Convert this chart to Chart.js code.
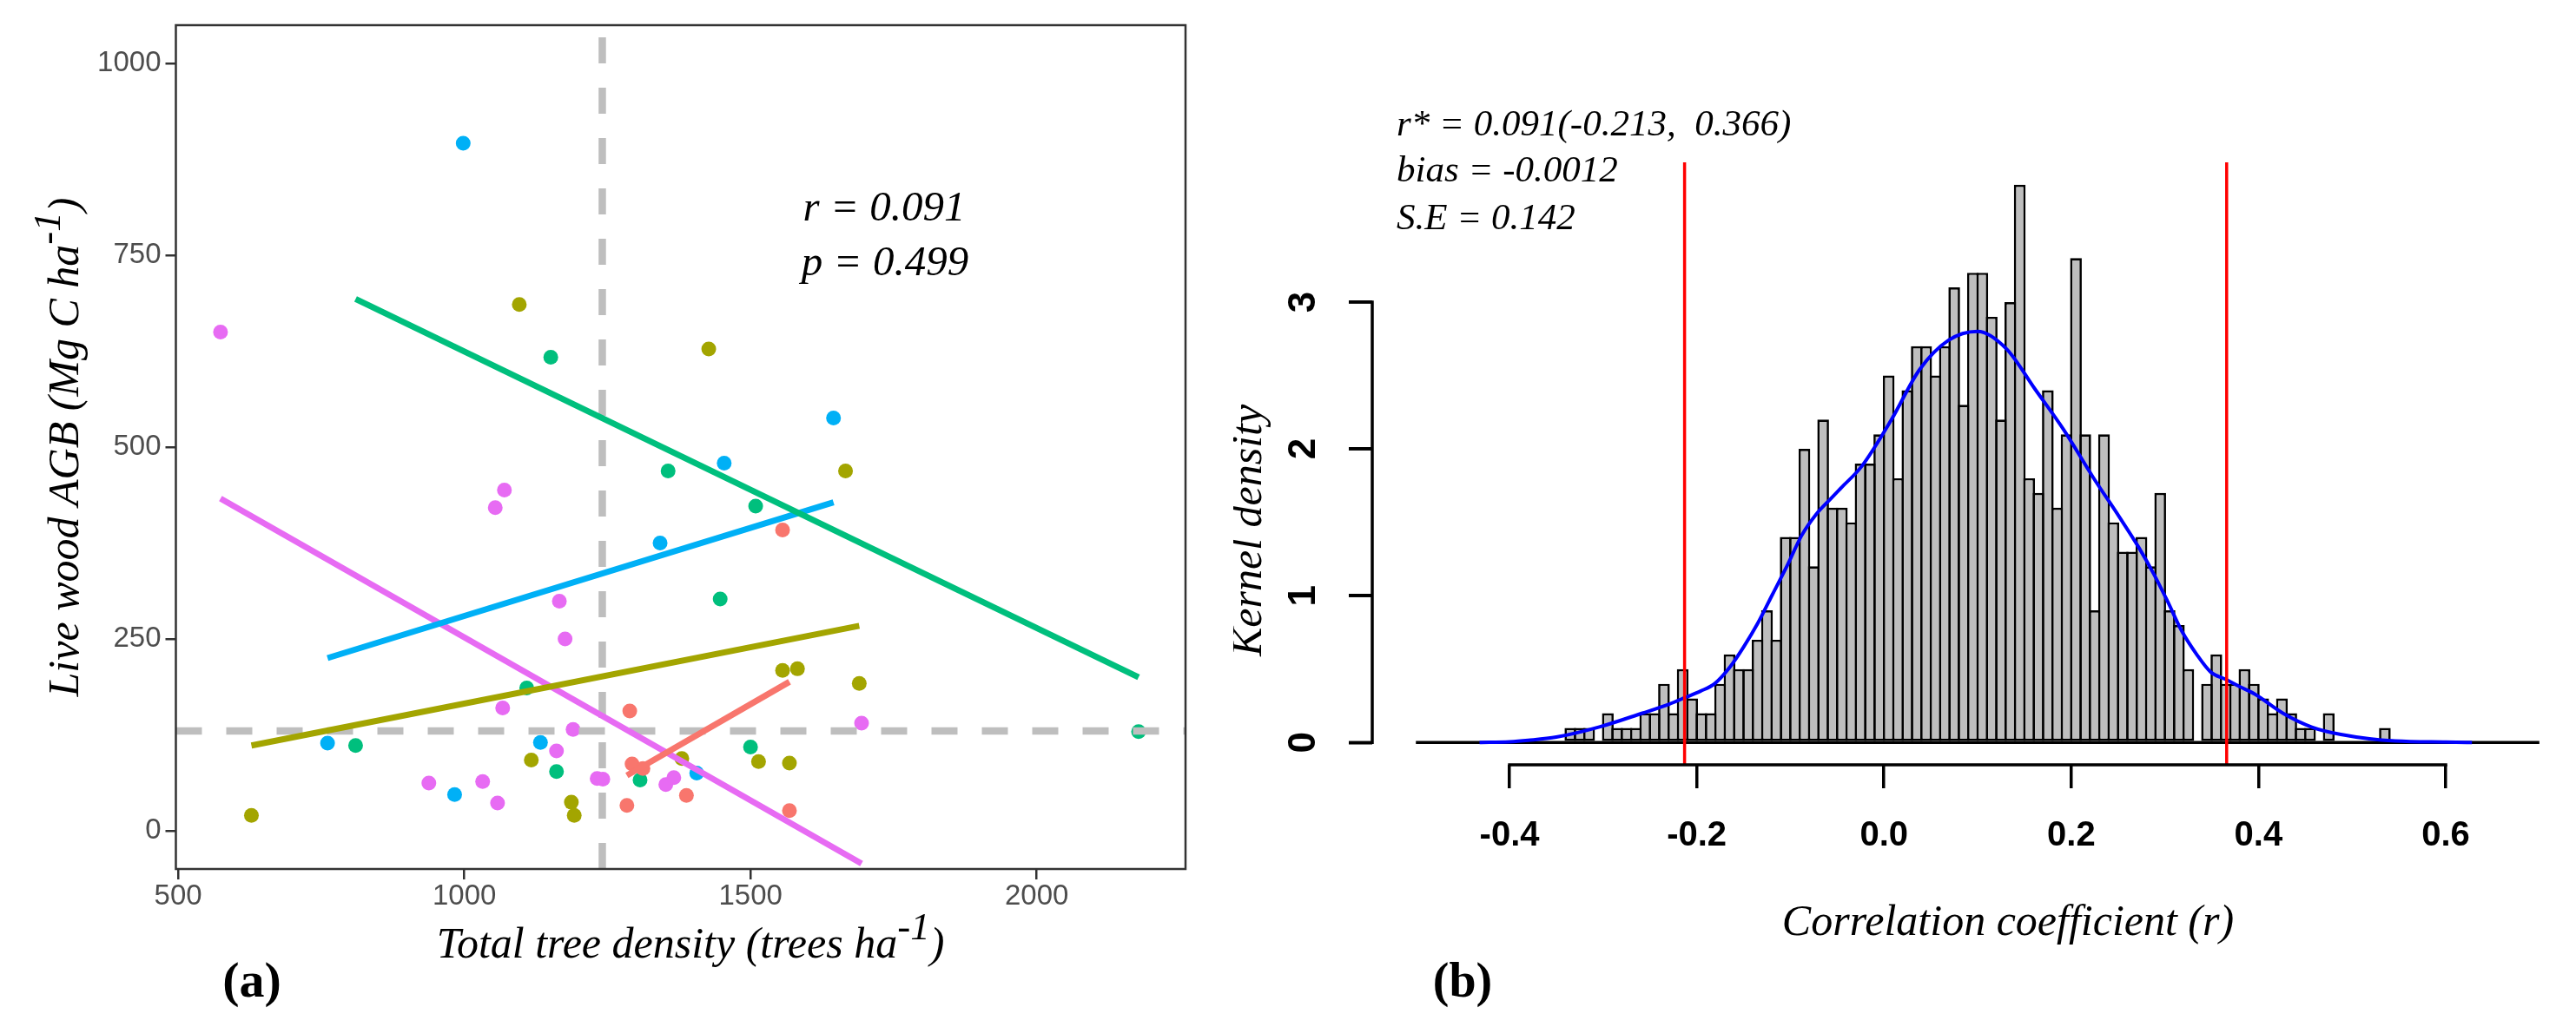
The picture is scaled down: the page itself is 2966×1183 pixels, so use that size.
<!DOCTYPE html>
<html><head><meta charset="utf-8">
<script src="https://cdn.jsdelivr.net/npm/chart.js@4.4.1/dist/chart.umd.min.js"></script>
<style>
html,body{margin:0;padding:0;background:#fff;}
body{width:2966px;height:1183px;position:relative;overflow:hidden;}
canvas{position:absolute;top:0;}
#ca{left:0;} #cb{left:1420px;}
</style></head><body>
<canvas id="ca" width="1420" height="1183"></canvas>
<canvas id="cb" width="1546" height="1183"></canvas>
<script>
// ================= Panel (a) data =================
const groupColors = ['#F8766D', '#A3A500', '#00BF7D', '#00B0F6', '#E76BF3'];
const redX   = [1556, 1289, 1293, 1312, 1284, 1388, 1568];
const redY   = [392, 156, 87, 81, 33, 46, 26];
const oliveX = [628, 1096, 1427, 1666, 1556, 1582, 1690, 1117, 1514, 1568, 1187, 1192, 1380];
const oliveY = [20, 686, 628, 469, 209, 211, 192, 92, 90, 88, 37, 20, 94];
const greenX = [1151, 1356, 1509, 1447, 1109, 810, 1161, 1307, 1500, 2178];
const greenY = [617, 469, 423, 302, 186, 111, 77, 66, 109, 129];
const blueX  = [998, 761, 983, 1133, 1342, 1454, 1645, 1406];
const blueY  = [896, 114, 47, 115, 375, 479, 538, 75];
const pinkX  = [574, 1070, 1054, 1166, 1176, 1067, 1190, 1161, 938, 1032, 1058, 1232, 1242, 1352, 1366, 1694];
const pinkY  = [650, 444, 421, 299, 250, 160, 132, 104, 62, 64, 36, 68, 67, 60, 69, 140];
// fitted line end points per group (red, olive, green, blue, pink)
const fitX = [[1284, 1568], [628, 1690], [810, 2178], [761, 1645], [574, 1694]];
const fitY = [[72, 194], [111, 267], [693, 200], [225, 428], [433, -43]];
const meanDensity = 1241;
const meanAGB = 130;
const xTicksA = [500, 1000, 1500, 2000];
const yTicksA = [0, 250, 500, 750, 1000];
const xRangeA = [496, 2260];
const yRangeA = [-50, 1050];

// ================= Panel (b) data =================
const binStart = -0.34;
const binWidth = 0.01;
const histDensity = [
  0.1, 0.1, 0.1, 0, 0.2, 0.1, 0.1, 0.1, 0.2, 0.2,
  0.4, 0.2, 0.5, 0.3, 0.2, 0.2, 0.4, 0.6, 0.5, 0.5,
  0.7, 0.9, 0.7, 1.4, 1.4, 2.0, 1.2, 2.2, 1.6, 1.6,
  1.5, 1.9, 1.9, 2.1, 2.5, 1.8, 2.4, 2.7, 2.7, 2.5,
  2.7, 3.1, 2.3, 3.2, 3.2, 2.9, 2.2, 3.0, 3.8, 1.8,
  1.7, 2.4, 1.6, 2.1, 3.3, 2.1, 0.9, 2.1, 1.5, 1.3,
  1.3, 1.4, 1.2, 1.7, 0.9, 0.8, 0.5, 0, 0.4, 0.6,
  0.4, 0.4, 0.5, 0.4, 0.3, 0.2, 0.3, 0.2, 0.1, 0.1,
  0, 0.2, 0, 0, 0, 0, 0, 0.1];
const densityR = [-0.432, -0.40, -0.38, -0.35, -0.304, -0.258, -0.23, -0.211, -0.196, -0.181, -0.165, -0.150,
  -0.135, -0.119, -0.103, -0.088, -0.073, -0.057, -0.045, -0.024, 0.008, 0.038, 0.069, 0.100,
  0.131, 0.161, 0.192, 0.223, 0.251, 0.272, 0.288, 0.303, 0.318, 0.334, 0.349, 0.365, 0.380,
  0.396, 0.426, 0.457, 0.488, 0.546, 0.60, 0.628];
const densityY = [0, 0.005, 0.015, 0.037, 0.106, 0.20, 0.26, 0.31, 0.35, 0.40, 0.51, 0.65,
  0.81, 1.01, 1.21, 1.41, 1.55, 1.66, 1.74, 1.88, 2.20, 2.54, 2.74, 2.80,
  2.68, 2.41, 2.13, 1.81, 1.54, 1.33, 1.15, 0.96, 0.76, 0.60, 0.48, 0.43, 0.38,
  0.33, 0.20, 0.105, 0.055, 0.01, 0.003, 0];
const ciLow = -0.213;
const ciHigh = 0.366;
const xTicksB = [-0.4, -0.2, 0, 0.2, 0.4, 0.6];
const yTicksB = [0, 1, 2, 3];
const plotRangeB = [-0.5, 0.7];
const xRangeB = [-0.5466, 0.7011];
const yRangeB = [-0.152, 3.952];

// ================= helpers =================
const SERIF = "'Liberation Serif', 'Times New Roman', 'DejaVu Serif', serif";
const SANS = "'Liberation Sans', Arial, Helvetica, sans-serif";
const NARROW = "'Liberation Sans Narrow', 'Arial Narrow', 'Liberation Sans', Arial, sans-serif";

function drawRich(ctx, parts, x, y, o) {
  ctx.save();
  ctx.translate(x, y);
  if (o.rotate) ctx.rotate(o.rotate);
  const supScale = 0.9;
  const fontFor = sup => `${o.style || 'normal'} ${o.weight || 'normal'} ${sup ? o.size * supScale : o.size}px ${o.family}`;
  let total = 0;
  const widths = parts.map(p => { ctx.font = fontFor(p.sup); const w = ctx.measureText(p.t).width; total += w; return w; });
  let cx = o.align === 'center' ? -total / 2 : 0;
  ctx.fillStyle = o.color || '#000';
  ctx.textBaseline = 'alphabetic';
  ctx.textAlign = 'left';
  parts.forEach((p, i) => {
    ctx.font = fontFor(p.sup);
    ctx.fillText(p.t, cx, p.sup ? -o.size * 0.42 : 0);
    cx += widths[i];
  });
  ctx.restore();
}

function pts(xs, ys) { return xs.map((x, i) => ({x: x, y: ys[i]})); }

// ================= Panel (a) chart =================
const groupsX = [redX, oliveX, greenX, blueX, pinkX];
const groupsY = [redY, oliveY, greenY, blueY, pinkY];
const dsA = [];
groupsX.forEach((xs, g) => {
  dsA.push({type: 'line', data: pts(fitX[g], fitY[g]), borderColor: groupColors[g], borderWidth: 7,
    pointRadius: 0, borderCapStyle: 'butt', fill: false, order: 0});
});
dsA.push({type: 'line', data: [{x: meanDensity, y: yRangeA[0]}, {x: meanDensity, y: yRangeA[1]}],
  borderColor: '#BEBEBE', borderWidth: 8.5, borderDash: [30, 28], borderCapStyle: 'butt', pointRadius: 0, order: 1});
dsA.push({type: 'line', data: [{x: xRangeA[0], y: meanAGB}, {x: xRangeA[1], y: meanAGB}],
  borderColor: '#BEBEBE', borderWidth: 8.5, borderDash: [30, 28], borderCapStyle: 'butt', pointRadius: 0, order: 1});
groupsX.forEach((xs, g) => {
  dsA.push({type: 'scatter', data: pts(xs, groupsY[g]), backgroundColor: groupColors[g], borderWidth: 0,
    pointRadius: 8.5, pointHoverRadius: 8.5, order: 2});
});

const textA = {
  id: 'textA',
  afterDatasetsDraw(chart) {
    const ctx = chart.ctx, a = chart.chartArea;
    ctx.save();
    ctx.strokeStyle = '#333333'; ctx.lineWidth = 2.5;
    ctx.strokeRect(a.left, a.top, a.right - a.left, a.bottom - a.top);
    ctx.restore();
  },
  afterDraw(chart) {
    const ctx = chart.ctx;
    drawRich(ctx, [{t: 'Total tree density (trees ha'}, {t: '-1', sup: true}, {t: ')'}], 795, 1103,
      {size: 50, style: 'italic', family: SERIF, align: 'center'});
    drawRich(ctx, [{t: 'Live wood AGB (Mg C ha'}, {t: '-1', sup: true}, {t: ')'}], 90, 515,
      {size: 50, style: 'italic', family: SERIF, align: 'center', rotate: -Math.PI / 2});
    drawRich(ctx, [{t: '(a)'}], 290, 1148, {size: 58, weight: 'bold', family: SERIF, align: 'center'});
    drawRich(ctx, [{t: 'r = 0.091'}], 1018, 254, {size: 49, style: 'italic', family: SERIF, align: 'center'});
    drawRich(ctx, [{t: 'p = 0.499'}], 1019, 317, {size: 49, style: 'italic', family: SERIF, align: 'center'});
  }
};

new Chart(document.getElementById('ca'), {
  type: 'scatter',
  data: {datasets: dsA},
  options: {
    responsive: false, animation: false, events: [],
    layout: {padding: {top: 29, right: 55, bottom: 0, left: 0}},
    plugins: {legend: {display: false}, tooltip: {enabled: false}},
    scales: {
      x: {type: 'linear', min: xRangeA[0], max: xRangeA[1],
        afterBuildTicks: s => { s.ticks = xTicksA.map(v => ({value: v})); },
        afterFit: s => { s.height = 182; },
        border: {display: false},
        grid: {drawOnChartArea: false, drawTicks: true, tickLength: 12, color: '#333333', lineWidth: 2.5},
        ticks: {padding: 0, color: '#4D4D4D', autoSkip: false, maxRotation: 0,
          font: {family: NARROW, size: 33}, callback: v => String(v)}},
      y: {type: 'linear', min: yRangeA[0], max: yRangeA[1],
        afterBuildTicks: s => { s.ticks = yTicksA.map(v => ({value: v})); },
        afterFit: s => { s.width = 202.5; },
        border: {display: false},
        grid: {drawOnChartArea: false, drawTicks: true, tickLength: 12, color: '#333333', lineWidth: 2.5},
        ticks: {padding: 5, color: '#4D4D4D', autoSkip: false,
          font: {family: NARROW, size: 33}, callback: v => String(v)}}
    }
  },
  plugins: [textA]
});

// ================= Panel (b) chart =================
const binCenters = histDensity.map((_, i) => +(binStart + binWidth * (i + 0.5)).toFixed(3));
const dsB = [
  {type: 'line', data: [{x: ciLow, y: yRangeB[0]}, {x: ciLow, y: yRangeB[1]}], borderColor: '#FF0000',
    borderWidth: 3.5, pointRadius: 0, borderCapStyle: 'butt', order: 0},
  {type: 'line', data: [{x: ciHigh, y: yRangeB[0]}, {x: ciHigh, y: yRangeB[1]}], borderColor: '#FF0000',
    borderWidth: 3.5, pointRadius: 0, borderCapStyle: 'butt', order: 0},
  {type: 'line', data: pts(densityR, densityY), borderColor: '#0000FF', borderWidth: 4, pointRadius: 0,
    cubicInterpolationMode: 'monotone', order: 1},
  {type: 'line', data: [{x: plotRangeB[0], y: 0}, {x: plotRangeB[1], y: 0}], borderColor: '#000000',
    borderWidth: 3.5, pointRadius: 0, borderCapStyle: 'butt', order: 2},
  {type: 'bar', data: pts(binCenters, histDensity), backgroundColor: '#BEBEBE', borderColor: '#000000',
    borderWidth: 2.7, borderSkipped: false, barPercentage: 1.25, categoryPercentage: 1, order: 3}
];

const textB = {
  id: 'textB',
  afterDraw(chart) {
    const ctx = chart.ctx;
    const xs = chart.scales.x, ys = chart.scales.y;
    const ax = ys.right;
    const by = xs.top;
    ctx.save();
    ctx.strokeStyle = '#000000'; ctx.lineWidth = 3.5; ctx.lineCap = 'butt';
    // y axis line with tick marks (R style, spanning first to last tick)
    ctx.beginPath();
    ctx.moveTo(ax, ys.getPixelForValue(yTicksB[0]) + 1.75);
    ctx.lineTo(ax, ys.getPixelForValue(yTicksB[yTicksB.length - 1]) - 1.75);
    ctx.stroke();
    yTicksB.forEach(v => {
      const py = ys.getPixelForValue(v);
      ctx.beginPath(); ctx.moveTo(ax - 27, py); ctx.lineTo(ax, py); ctx.stroke();
    });
    // x axis line spanning first to last tick
    ctx.beginPath();
    ctx.moveTo(xs.getPixelForValue(xTicksB[0]) - 1.75, by);
    ctx.lineTo(xs.getPixelForValue(xTicksB[xTicksB.length - 1]) + 1.75, by);
    ctx.stroke();
    ctx.restore();
    const off = 1420;
    drawRich(ctx, [{t: 'Kernel density'}], 1452 - off, 611,
      {size: 50, style: 'italic', family: SERIF, align: 'center', rotate: -Math.PI / 2});
    drawRich(ctx, [{t: 'Correlation coefficient (r)'}], 2312 - off, 1077,
      {size: 50, style: 'italic', family: SERIF, align: 'center'});
    drawRich(ctx, [{t: '(b)'}], 1684 - off, 1148, {size: 56, weight: 'bold', family: SERIF, align: 'center'});
    drawRich(ctx, [{t: 'r* = 0.091(-0.213,  0.366)'}], 1608 - off, 156, {size: 43, style: 'italic', family: SERIF});
    drawRich(ctx, [{t: 'bias = -0.0012'}], 1608 - off, 209, {size: 43, style: 'italic', family: SERIF});
    drawRich(ctx, [{t: 'S.E = 0.142'}], 1608 - off, 264, {size: 43, style: 'italic', family: SERIF});
  }
};

new Chart(document.getElementById('cb'), {
  type: 'bar',
  data: {datasets: dsB},
  options: {
    responsive: false, animation: false, events: [],
    layout: {padding: {top: 187, right: 41, bottom: 0, left: 0}},
    plugins: {legend: {display: false}, tooltip: {enabled: false}},
    scales: {
      x: {type: 'linear', min: xRangeB[0], max: xRangeB[1], offset: false,
        afterBuildTicks: s => { s.ticks = xTicksB.map(v => ({value: v})); },
        afterFit: s => { s.height = 302; },
        border: {display: false},
        grid: {offset: false, drawOnChartArea: false, drawTicks: true, tickLength: 27, color: '#000', lineWidth: 3.5},
        ticks: {padding: 31, color: '#000', autoSkip: false, maxRotation: 0,
          font: {family: SANS, size: 40, weight: 'bold'}, callback: v => v.toFixed(1)}},
      y: {type: 'linear', min: yRangeB[0], max: yRangeB[1],
        afterBuildTicks: s => { s.ticks = yTicksB.map(v => ({value: v})); },
        afterFit: s => { s.width = 160; },
        border: {display: false},
        grid: {offset: false, drawOnChartArea: false, drawTicks: true, tickLength: 27, color: '#000', lineWidth: 3.5},
        ticks: {padding: 39, color: '#000', autoSkip: false, minRotation: 90, maxRotation: 90, crossAlign: 'center',
          font: {family: SANS, size: 44, weight: 'bold'}, callback: v => String(v)}}
    }
  },
  plugins: [textB]
});
</script>
</body></html>
